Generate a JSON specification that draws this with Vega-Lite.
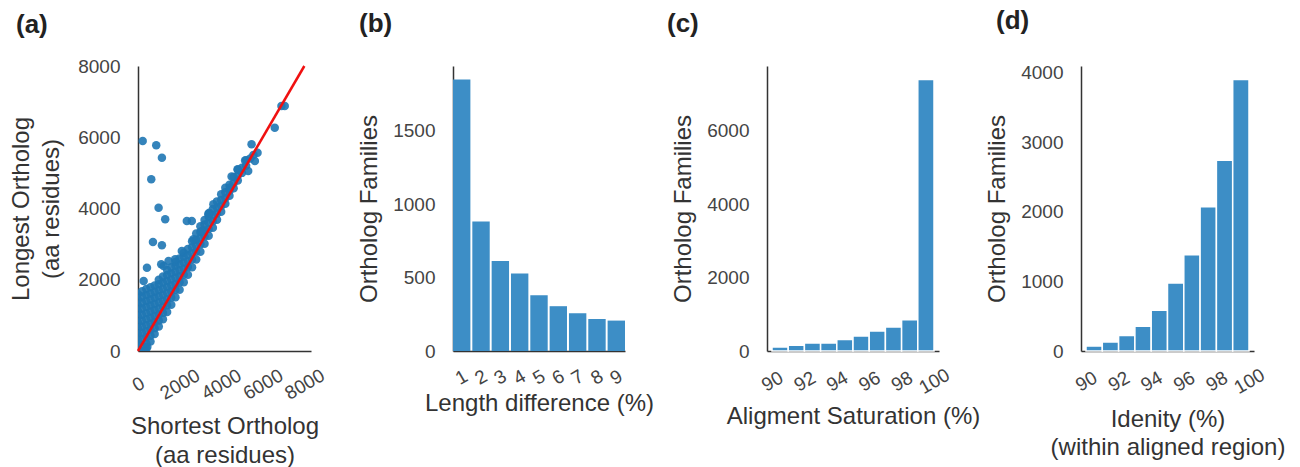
{
  "$schema": "https://vega.github.io/schema/vega-lite/v6.json",
  "background": "white",
  "padding": {"left": 9, "top": 8, "right": 5, "bottom": 5},
  "spacing": 142,
  "bounds": "flush",
  "config": {
    "view": {"stroke": null},
    "axis": {"domainColor": "#333", "domainWidth": 1.5, "ticks": false, "tickSize": 0, "grid": false, "format": "d",
      "labelFont": "Liberation Sans", "labelFontSize": 19, "labelColor": "#444", "labelOverlap": false, "labelFlush": false, "labelBound": false,
      "titleFont": "Liberation Sans", "titleFontSize": 24, "titleFontWeight": "normal", "titleColor": "#333", "zindex": 1, "labelPadding": 18},
    "axisX": {"labelAngle": -30, "labelAlign": "center", "labelBaseline": "middle", "labelPadding": 30, "titlePadding": 8, "titleLineHeight": 29},
    "axisY": {"titlePadding": 11, "titleLineHeight": 30},
    "title": {"font": "Liberation Sans", "fontSize": 26, "fontWeight": "bold", "anchor": "start", "frame": "group", "color": "#222", "offset": 29}
  },
  "datasets": {
    "scatter": [
      {"s":0,"l":0},{"s":0,"l":160},{"s":0,"l":320},{"s":0,"l":480},{"s":0,"l":640},{"s":0,"l":800},{"s":0,"l":960},{"s":0,"l":1120},{"s":0,"l":1280},{"s":0,"l":1440},{"s":0,"l":1600},
      {"s":200,"l":0},{"s":200,"l":170},{"s":200,"l":340},{"s":200,"l":510},{"s":200,"l":680},{"s":200,"l":850},{"s":200,"l":1020},{"s":200,"l":1190},{"s":200,"l":1360},{"s":200,"l":1530},{"s":200,"l":1675},
      {"s":340,"l":0},{"s":450,"l":120},
      {"s":400,"l":60},{"s":400,"l":213},{"s":400,"l":383},{"s":400,"l":553},{"s":400,"l":723},{"s":400,"l":893},{"s":400,"l":1063},{"s":400,"l":1233},{"s":400,"l":1403},{"s":400,"l":1573},{"s":400,"l":1743},
      {"s":600,"l":270},{"s":600,"l":427},{"s":600,"l":597},{"s":600,"l":767},{"s":600,"l":937},{"s":600,"l":1107},{"s":600,"l":1277},{"s":600,"l":1447},{"s":600,"l":1617},{"s":600,"l":1790},
      {"s":800,"l":480},{"s":800,"l":642},{"s":800,"l":812},{"s":800,"l":982},{"s":800,"l":1152},{"s":800,"l":1322},{"s":800,"l":1492},{"s":800,"l":1662},{"s":800,"l":1840},
      {"s":1000,"l":685},{"s":1000,"l":856},{"s":1000,"l":1026},{"s":1000,"l":1196},{"s":1000,"l":1366},{"s":1000,"l":1536},{"s":1000,"l":1706},{"s":1000,"l":1876},{"s":1000,"l":2000},
      {"s":1200,"l":890},{"s":1200,"l":1070},{"s":1200,"l":1240},{"s":1200,"l":1410},{"s":1200,"l":1580},{"s":1200,"l":1750},{"s":1200,"l":1920},{"s":1200,"l":2090},
      {"s":1400,"l":1095},{"s":1400,"l":1285},{"s":1400,"l":1455},{"s":1400,"l":1625},{"s":1400,"l":1795},{"s":1400,"l":1965},{"s":1400,"l":2135},{"s":1400,"l":2275},
      {"s":1600,"l":1300},{"s":1600,"l":1499},{"s":1600,"l":1669},{"s":1600,"l":1839},{"s":1600,"l":2009},{"s":1600,"l":2179},{"s":1600,"l":2349},
      {"s":1800,"l":1510},{"s":1800,"l":1713},{"s":1800,"l":1883},{"s":1800,"l":2053},{"s":1800,"l":2223},{"s":1800,"l":2393},{"s":1800,"l":2500},
      {"s":2000,"l":1720},{"s":2000,"l":1928},{"s":2000,"l":2098},{"s":2000,"l":2268},{"s":2000,"l":2438},{"s":2000,"l":2600},
      {"s":2200,"l":1930},{"s":2200,"l":2142},{"s":2200,"l":2312},{"s":2200,"l":2482},{"s":2200,"l":2652},{"s":2200,"l":2760},
      {"s":2400,"l":2140},{"s":2400,"l":2356},{"s":2400,"l":2526},{"s":2400,"l":2696},{"s":2400,"l":2866},
      {"s":2600,"l":2350},{"s":2600,"l":2571},{"s":2600,"l":2741},{"s":2600,"l":2911},{"s":2600,"l":3080},
      {"s":2800,"l":2565},{"s":2800,"l":2785},{"s":2800,"l":2955},{"s":2800,"l":3125},{"s":2800,"l":3295},
      {"s":3000,"l":2785},{"s":3000,"l":3000},{"s":3000,"l":3170},{"s":3000,"l":3340},{"s":3000,"l":3500},
      {"s":3200,"l":3010},{"s":3200,"l":3214},{"s":3200,"l":3384},{"s":3200,"l":3554},{"s":3200,"l":3680},
      {"s":3400,"l":3235},{"s":3400,"l":3428},{"s":3400,"l":3598},{"s":3400,"l":3768},{"s":3400,"l":3860},
      {"s":3600,"l":3460},{"s":3600,"l":3643},{"s":3600,"l":3813},{"s":3600,"l":3983},
      {"s":3800,"l":3685},{"s":3800,"l":3857},{"s":3800,"l":4027},{"s":3800,"l":4200},
      {"s":4000,"l":3910},{"s":4000,"l":4071},{"s":4000,"l":4241},{"s":4000,"l":4400},
      {"s":4200,"l":4135},{"s":4200,"l":4286},{"s":4200,"l":4456},{"s":4200,"l":4580},
      {"s":4400,"l":4355},{"s":4400,"l":4500},{"s":4400,"l":4670},
      {"s":4600,"l":4570},{"s":4600,"l":4714},{"s":4600,"l":4884},
      {"s":4800,"l":4785},{"s":4800,"l":4929},{"s":4800,"l":5090},
      {"s":5000,"l":5000},{"s":5000,"l":5143},
      {"s":5200,"l":5200},{"s":5200,"l":5358},
      {"s":5400,"l":5402},
      {"s":225,"l":5895},{"s":877,"l":5774},{"s":1150,"l":5427},{"s":637,"l":4819},{"s":990,"l":4023},{"s":1309,"l":3697},
      {"s":2347,"l":3649},{"s":2587,"l":3649},{"s":718,"l":3060},{"s":1150,"l":2967},{"s":431,"l":2339},{"s":272,"l":1965},
      {"s":2108,"l":2807},{"s":1788,"l":2574},{"s":3625,"l":4118},{"s":3434,"l":3882},{"s":4790,"l":5100},{"s":5461,"l":5802},
      {"s":5749,"l":5567},{"s":6577,"l":6268},{"s":6898,"l":6877},{"s":7057,"l":6877},{"s":2666,"l":3135},{"s":3066,"l":3368},
      {"s":1117,"l":2433},{"s":1470,"l":2526},{"s":1230,"l":2386},{"s":5550,"l":5500},{"s":5150,"l":5350},{"s":4500,"l":4900},
      {"s":5620,"l":5333},{"s":5300,"l":5052},{"s":4422,"l":4585},{"s":3386,"l":3837}
    ],
    "diag": [{"s":0,"l":0},{"s":8000,"l":8000}],
    "lendiff": [
      {"pct":1,"n":1848},{"pct":2,"n":881},{"pct":3,"n":613},{"pct":4,"n":527},{"pct":5,"n":380},
      {"pct":6,"n":305},{"pct":7,"n":257},{"pct":8,"n":218},{"pct":9,"n":207}
    ],
    "saturation": [
      {"lo":90,"hi":91,"n":109},{"lo":91,"hi":92,"n":155},{"lo":92,"hi":93,"n":218},{"lo":93,"hi":94,"n":218},{"lo":94,"hi":95,"n":310},
      {"lo":95,"hi":96,"n":408},{"lo":96,"hi":97,"n":544},{"lo":97,"hi":98,"n":653},{"lo":98,"hi":99,"n":853},{"lo":99,"hi":100,"n":7387}
    ],
    "identity": [
      {"lo":90,"hi":91,"n":71},{"lo":91,"hi":92,"n":129},{"lo":92,"hi":93,"n":224},{"lo":93,"hi":94,"n":357},{"lo":94,"hi":95,"n":586},
      {"lo":95,"hi":96,"n":977},{"lo":96,"hi":97,"n":1381},{"lo":97,"hi":98,"n":2071},{"lo":98,"hi":99,"n":2739},{"lo":99,"hi":100,"n":3896}
    ]
  },
  "hconcat": [
    {
      "width": 173, "height": 285,
      "title": {"text": "(a)", "dx": -122, "offset": 19},
      "layer": [
        {
          "data": {"name": "scatter"},
          "mark": {"type": "circle", "size": 72, "color": "#1f77b4", "opacity": 0.9, "clip": true},
          "encoding": {
            "x": {"field": "s", "type": "quantitative", "scale": {"domain": [0, 8320], "nice": false},
              "axis": {"values": [0, 2000, 4000, 6000, 8000], "title": ["Shortest Ortholog", "(aa residues)"], "labelPadding": 33, "titlePadding": 11}},
            "y": {"field": "l", "type": "quantitative", "scale": {"domain": [0, 8000], "nice": false},
              "axis": {"values": [0, 2000, 4000, 6000, 8000], "title": ["Longest Ortholog", "(aa residues)"], "titlePadding": 14}}
          }
        },
        {
          "data": {"name": "diag"},
          "mark": {"type": "line", "color": "#f01010", "strokeWidth": 2.5},
          "encoding": {
            "x": {"field": "s", "type": "quantitative"},
            "y": {"field": "l", "type": "quantitative"}
          }
        }
      ]
    },
    {
      "width": 172, "height": 285,
      "title": {"text": "(b)", "dx": -94},
      "data": {"name": "lendiff"},
      "mark": {"type": "bar", "color": "#3d8ec6"},
      "encoding": {
        "x": {"field": "pct", "type": "ordinal", "scale": {"paddingInner": 0.1, "paddingOuter": 0},
          "axis": {"title": "Length difference (%)", "labelPadding": 26, "titlePadding": 3}},
        "y": {"field": "n", "type": "quantitative", "scale": {"domain": [0, 1940], "nice": false},
          "axis": {"values": [0, 500, 1000, 1500], "title": "Ortholog Families"}}
      }
    },
    {
      "width": 172, "height": 285,
      "title": {"text": "(c)", "dx": -100},
      "data": {"name": "saturation"},
      "mark": {"type": "bar", "orient": "vertical", "color": "#3d8ec6", "stroke": "white", "strokeWidth": 1.5},
      "encoding": {
        "x": {"field": "lo", "type": "quantitative", "scale": {"domain": [90, 100], "nice": false},
          "axis": {"values": [90, 92, 94, 96, 98, 100], "title": "Aligment Saturation (%)", "titlePadding": 7}},
        "x2": {"field": "hi"},
        "y": {"field": "n", "type": "quantitative", "scale": {"domain": [0, 7756], "nice": false},
          "axis": {"values": [0, 2000, 4000, 6000], "title": "Ortholog Families"}}
      }
    },
    {
      "width": 173, "height": 285,
      "title": {"text": "(d)", "dx": -85},
      "data": {"name": "identity"},
      "mark": {"type": "bar", "orient": "vertical", "color": "#3d8ec6", "stroke": "white", "strokeWidth": 1.5},
      "encoding": {
        "x": {"field": "lo", "type": "quantitative", "scale": {"domain": [90, 100], "nice": false},
          "axis": {"values": [90, 92, 94, 96, 98, 100], "title": ["Idenity (%)", "(within aligned region)"], "titleLineHeight": 28, "titlePadding": 10}},
        "x2": {"field": "hi"},
        "y": {"field": "n", "type": "quantitative", "scale": {"domain": [0, 4091], "nice": false},
          "axis": {"values": [0, 1000, 2000, 3000, 4000], "title": "Ortholog Families"}}
      }
    }
  ]
}
